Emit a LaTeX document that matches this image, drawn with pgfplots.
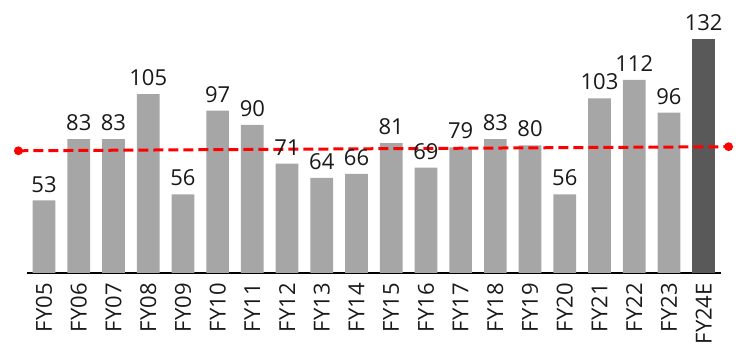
\documentclass[border=0pt]{standalone}
\usepackage{pgfplots}
\pgfplotsset{compat=1.18}
\usepackage{fontspec}
\setmainfont{Open Sans}
\definecolor{barg}{HTML}{A6A6A6}
\definecolor{bard}{HTML}{595959}
\definecolor{lred}{HTML}{FF0000}
\begin{document}
\begin{tikzpicture}
\path[use as bounding box] (-26.7pt,-74pt) rectangle (715.3pt,273pt);
\begin{axis}[
  at={(0pt,0pt)}, anchor=south west,
  scale only axis, width=694.3pt, height=234pt,
  xmin=-0.5, xmax=19.5, ymin=17.5, ymax=132,
  clip=false,
  axis x line*=bottom, axis y line=none,
  axis line style={black, line width=1.3pt, -},
  xtick={0,...,19},
  xticklabels={FY05,FY06,FY07,FY08,FY09,FY10,FY11,FY12,FY13,FY14,FY15,FY16,FY17,FY18,FY19,FY20,FY21,FY22,FY23,FY24E},
  x tick label style={rotate=90, anchor=east, font=\fontsize{22}{24}\selectfont, text={rgb,255:red,25;green,25;blue,25}, inner sep=0pt},
  xticklabel shift=10pt,
  major tick length=0pt,
  ytick=\empty,
  /pgf/number format/assume math mode=true,
]
\addplot[ybar, bar shift=0pt, bar width=22.7pt, fill=barg, draw=none,
  nodes near coords, every node near coord/.style={font=\fontsize{22}{24}\selectfont, text={rgb,255:red,25;green,25;blue,25}, anchor=south, inner sep=0pt, yshift=8pt}] coordinates {
(0,53) (1,83) (2,83) (3,105) (4,56) (5,97) (6,90) (7,71) (8,64) (9,66)
(10,81) (11,69) (12,79) (13,83) (14,80) (15,56) (16,103) (17,112) (18,96)
};
\addplot[ybar, bar shift=0pt, bar width=22.7pt, fill=bard, draw=none,
  nodes near coords, every node near coord/.style={font=\fontsize{22}{24}\selectfont, text={rgb,255:red,25;green,25;blue,25}, anchor=south, inner sep=0pt, yshift=8pt}] coordinates {(19,132)};
\addplot[lred, line width=3pt, dash pattern=on 10pt off 5pt, mark=*, mark size=2.8pt, mark options={solid, fill=lred}] coordinates {(-0.74,77.3) (19.72,79.3)};
\end{axis}
\end{tikzpicture}
\end{document}
